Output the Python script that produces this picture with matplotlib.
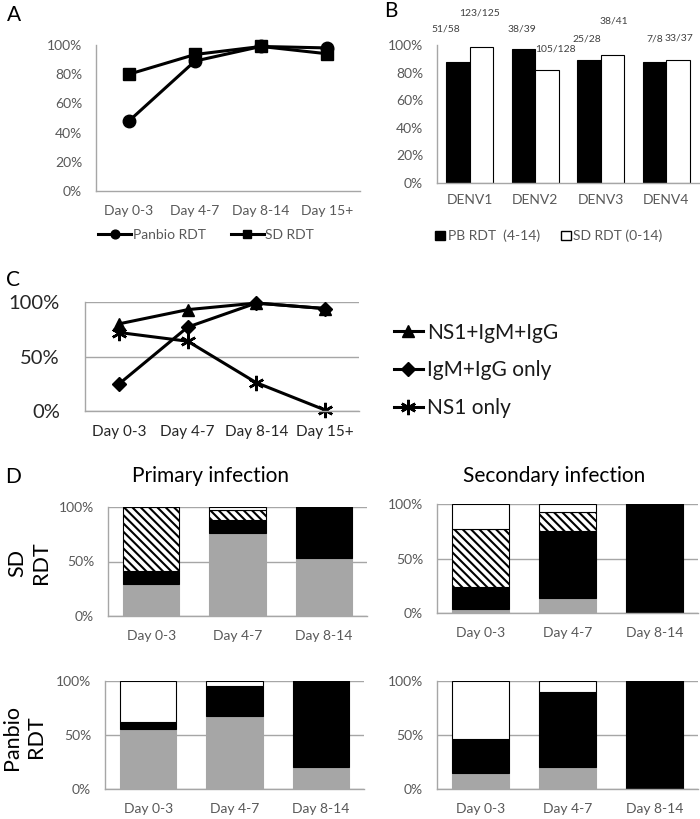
import numpy as np
import matplotlib.pyplot as plt
from matplotlib.ticker import PercentFormatter
from matplotlib.patches import Patch

plt.rcParams['font.family'] = ['Lato', 'DejaVu Sans']
plt.rcParams['hatch.linewidth'] = 1.5

W, H = 700, 819

# panel A: sensitivity by day of illness
days = ['Day 0-3', 'Day 4-7', 'Day 8-14', 'Day 15+']
panbio_sens = [48, 89, 99, 98]
sd_sens = [80, 93.5, 99, 94]

# panel B: sensitivity by serotype
serotypes = ['DENV1', 'DENV2', 'DENV3', 'DENV4']
pb_pos = [51, 38, 25, 7]
pb_tot = [58, 39, 28, 8]
sd_pos = [123, 105, 38, 33]
sd_tot = [125, 128, 41, 37]
# label nudges in pixels (dx, up from bar top)
pb_lab_dx = [-12, -2, -2, 0]
pb_lab_dy = [33, 20, 21, 23]
sd_lab_dx = [-2, 8, 1, 1]
sd_lab_dy = [34, 21, 34, 22]

# panel C
combo = [80, 93, 99, 94]
ab_only = [25, 77, 99, 94]
ns1_only = [72, 64, 26, 1]

# panel D: stacked segments bottom->top: gray, black, hatched, white (%)
d_days = ['Day 0-3', 'Day 4-7', 'Day 8-14']
sd_primary = [[29, 76, 53.5], [12.5, 12.5, 46.5], [58.5, 9, 0], [0, 2.5, 0]]
sd_secondary = [[3.5, 14, 0], [20, 61, 100], [53.5, 17.5, 0], [23, 7.5, 0]]
pb_primary = [[56, 68, 20], [6.5, 27.5, 80], [0, 0, 0], [37.5, 4.5, 0]]
pb_secondary = [[14.5, 20, 0], [31.5, 69.5, 100], [0, 0, 0], [54, 10.5, 0]]

fig = plt.figure(figsize=(W / 100, H / 100), dpi=100)


def add_ax(l, t, r, b):
    return fig.add_axes([l / W, 1 - b / H, (r - l) / W, (b - t) / H])


def style(ax, grid=False, color='#595959', size=10, ypad=10):
    for s in ['top', 'right']:
        ax.spines[s].set_visible(False)
    for s in ['left', 'bottom']:
        ax.spines[s].set_color('#a6a6a6')
        ax.spines[s].set_linewidth(1.0)
    ax.tick_params(length=0, colors=color, labelsize=size)
    ax.tick_params(axis='y', pad=ypad)
    ax.tick_params(axis='x', pad=10)
    ax.yaxis.set_major_formatter(PercentFormatter(100, decimals=0))
    ax.set_ylim(0, 100)
    if grid:
        ax.yaxis.grid(True, color='#a6a6a6', lw=1.0)
        ax.set_axisbelow(True)


# A
ax_a = add_ax(96, 45, 360, 191)
x4 = np.arange(len(days))
ax_a.plot(x4, panbio_sens, '-o', color='black', lw=2.2, ms=9, label='Panbio RDT', clip_on=False)
ax_a.plot(x4, sd_sens, '-s', color='black', lw=2.2, ms=9, label='SD RDT', clip_on=False)
ax_a.set_xlim(-0.5, 3.5)
ax_a.set_xticks(x4, days)
ax_a.set_yticks(range(0, 101, 20))
style(ax_a)
fig.legend(*ax_a.get_legend_handles_labels(), loc='center', bbox_to_anchor=(206 / W, 1 - 235 / H),
           ncol=2, frameon=False, fontsize=10, handlelength=2.4, handletextpad=0.1,
           columnspacing=1.8, markerscale=0.7, labelcolor='#595959')

# B
ax_b = add_ax(437, 45, 699, 183)
pb_vals = [100 * p / n for p, n in zip(pb_pos, pb_tot)]
sd_vals = [100 * p / n for p, n in zip(sd_pos, sd_tot)]
ax_b.bar(x4 - 0.18, pb_vals, 0.36, color='black', edgecolor='black', lw=0.8)
ax_b.bar(x4 + 0.18, sd_vals, 0.36, color='white', edgecolor='black', lw=0.8)
for i in range(4):
    ax_b.annotate(f'{pb_pos[i]}/{pb_tot[i]}', (x4[i] - 0.18, pb_vals[i]),
                  xytext=(pb_lab_dx[i] * 0.72, pb_lab_dy[i] * 0.72), textcoords='offset points',
                  ha='center', va='center', fontsize=7.5, color='#404040', annotation_clip=False)
    ax_b.annotate(f'{sd_pos[i]}/{sd_tot[i]}', (x4[i] + 0.18, sd_vals[i]),
                  xytext=(sd_lab_dx[i] * 0.72, sd_lab_dy[i] * 0.72), textcoords='offset points',
                  ha='center', va='center', fontsize=7.5, color='#404040', annotation_clip=False)
ax_b.set_xlim(-0.5, 3.5)
ax_b.set_xticks(x4, serotypes)
ax_b.set_yticks(range(0, 101, 20))
style(ax_b)
ax_b.tick_params(axis='x', pad=8)
fig.legend([Patch(fc='black', ec='black'), Patch(fc='white', ec='black')],
           ['PB RDT  (4-14)', 'SD RDT (0-14)'], loc='center', bbox_to_anchor=(549 / W, 1 - 236 / H),
           ncol=2, frameon=False, fontsize=10, handlelength=0.7, handleheight=0.7,
           handletextpad=0.2, columnspacing=1.5, labelcolor='#595959')

# C
ax_c = add_ax(85, 302, 359, 411)
ax_c.plot(x4, combo, '-^', color='black', lw=2.2, ms=9, label='NS1+IgM+IgG', clip_on=False)
ax_c.plot(x4, ab_only, '-D', color='black', lw=2.2, ms=7, label='IgM+IgG only', clip_on=False)
ax_c.plot(x4, ns1_only, '-', marker=(6, 2, 0), color='black', lw=2.2, ms=11, mew=1.8,
          label='NS1 only', clip_on=False)
ax_c.set_xlim(-0.5, 3.5)
ax_c.set_xticks(x4, days)
ax_c.set_yticks([0, 50, 100])
style(ax_c, grid=True, color='#262626', size=11, ypad=18)
ax_c.tick_params(axis='y', labelsize=14.5)
fig.legend(*ax_c.get_legend_handles_labels(), loc='upper left', bbox_to_anchor=(375 / W, 1 - 304 / H),
           frameon=False, fontsize=15, handlelength=1.4, handletextpad=0.2, labelspacing=0.85,
           labelcolor='#1a1a1a')

# D
seg_fc = ['#a6a6a6', 'black', 'white', 'white']
seg_ec = ['#a6a6a6', 'black', 'black', 'black']
seg_hatch = [None, None, '\\\\\\\\', None]
x3 = np.arange(len(d_days))
boxes = [(sd_primary, (108, 507, 367, 616)), (sd_secondary, (437, 504, 698, 613)),
         (pb_primary, (105, 681, 364, 789)), (pb_secondary, (437, 681, 698, 789))]
for segs, box in boxes:
    ax = add_ax(*box)
    bottom = np.zeros(3)
    for k, vals in enumerate(segs):
        ax.bar(x3, vals, 0.65, bottom=bottom, color=seg_fc[k], edgecolor=seg_ec[k],
               hatch=seg_hatch[k], lw=0.8)
        bottom += np.array(vals)
    ax.set_xlim(-0.5, 2.5)
    ax.set_xticks(x3, d_days)
    ax.set_yticks([0, 50, 100])
    style(ax, grid=True)

fig.text(210 / W, 1 - 476 / H, 'Primary infection', fontsize=15, ha='center', va='center')
fig.text(554 / W, 1 - 476 / H, 'Secondary infection', fontsize=15, ha='center', va='center')
fig.text(29 / W, 1 - 563 / H, 'SD\nRDT', fontsize=15.5, rotation=90, ha='center', va='center')
fig.text(24 / W, 1 - 737 / H, 'Panbio\nRDT', fontsize=15.5, rotation=90, ha='center', va='center')

for letter, lx, ly in [('A', 7, 15), ('B', 384, 11), ('C', 6, 280), ('D', 5, 477)]:
    fig.text(lx / W, 1 - ly / H, letter, fontsize=15, ha='left', va='center')

fig.savefig('out.png', dpi=100)
